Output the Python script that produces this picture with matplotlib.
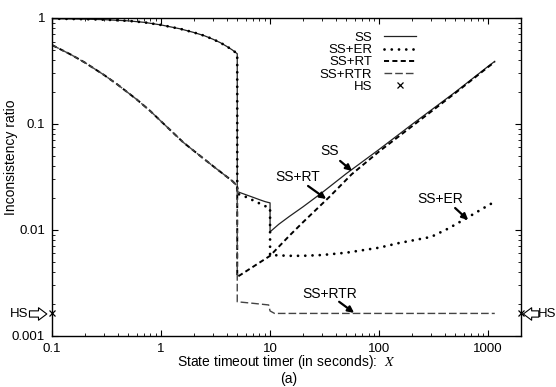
import matplotlib
matplotlib.use('Agg')
import matplotlib.pyplot as plt

plt.rcParams['font.family'] = ['Liberation Sans', 'DejaVu Sans']
plt.rcParams['mathtext.fontset'] = 'stix'

# values (x in seconds, y = inconsistency ratio)
ss_x = [0.1, 0.2, 0.3, 0.5, 0.7, 1, 1.5, 2, 2.5, 3, 3.5, 4, 4.5, 5,
        5, 6, 7, 8, 9, 10, 10, 12, 15, 20, 30, 50, 100, 200, 500, 1000, 1150]
ss_y = [0.985, 0.975, 0.965, 0.94, 0.91, 0.86, 0.79, 0.73, 0.68, 0.63, 0.585, 0.54, 0.50, 0.46,
        0.023, 0.0215, 0.0203, 0.0193, 0.0185, 0.018, 0.0096, 0.0113, 0.0134, 0.0165, 0.0225,
        0.034, 0.0575, 0.099, 0.20, 0.35, 0.39]

er_x = [0.1, 0.2, 0.3, 0.5, 0.7, 1, 1.5, 2, 2.5, 3, 3.5, 4, 4.5, 5,
        5, 6, 7, 8, 9, 10, 10, 15, 20, 30, 50, 100, 150, 300, 430, 640, 900, 1150]
er_y = [0.985, 0.975, 0.965, 0.94, 0.91, 0.86, 0.79, 0.73, 0.68, 0.63, 0.585, 0.54, 0.50, 0.46,
        0.022, 0.0205, 0.019, 0.0178, 0.0168, 0.016, 0.0058, 0.0057, 0.0057, 0.0058, 0.0061,
        0.0068, 0.0075, 0.0086, 0.0103, 0.013, 0.016, 0.0185]

rt_x = [0.1, 0.15, 0.2, 0.3, 0.4, 0.6, 0.8, 1, 1.6, 2.4, 3.2, 4.5, 5,
        5, 7, 10, 15, 20, 35, 56, 100, 200, 500, 1000, 1150]
rt_y = [0.556, 0.45, 0.38, 0.29, 0.235, 0.17, 0.132, 0.106, 0.067, 0.048, 0.038, 0.029, 0.026,
        0.0036, 0.0045, 0.0057, 0.0088, 0.0118, 0.0205, 0.0335, 0.055, 0.095, 0.196, 0.345, 0.385]

rtr_x = [0.1, 0.15, 0.2, 0.3, 0.4, 0.6, 0.8, 1, 1.6, 2.4, 3.2, 4.5, 5,
         5, 7, 9.7, 10, 11, 1150]
rtr_y = [0.556, 0.45, 0.38, 0.29, 0.235, 0.17, 0.132, 0.106, 0.067, 0.048, 0.038, 0.029, 0.026,
         0.0021, 0.00203, 0.00196, 0.00172, 0.00163, 0.00163]

hs_x = [0.1, 2000]
hs_y = [0.00163, 0.00163]

xticks = [0.1, 1, 10, 100, 1000]
xtick_labels = ['0.1', '1', '10', '100', '1000']
yticks = [0.001, 0.01, 0.1, 1]
ytick_labels = ['0.001', '0.01', '0.1', '1']

fig = plt.figure(figsize=(5.56, 3.87), dpi=100)
ax = fig.add_axes([0.0935, 0.132, 0.8435, 0.8215])

ax.plot(ss_x, ss_y, color='#222222', lw=0.9, label='SS')
ax.plot(er_x, er_y, color='black', lw=2.0, linestyle=(0, (0.01, 2.6)),
        dash_capstyle='round', label='SS+ER')
ax.plot(rt_x, rt_y, color='black', lw=1.4, linestyle=(0, (2.6, 1.7)), label='SS+RT')
ax.plot(rtr_x, rtr_y, color='#444444', lw=1.0, linestyle=(0, (5.5, 2.2)), label='SS+RTR')
ax.plot(hs_x, hs_y, linestyle='none', marker='x', ms=4, mew=0.9, color='black',
        clip_on=False, label='HS', zorder=5)

ax.set_xscale('log')
ax.set_yscale('log')
ax.set_xlim(0.1, 2000)
ax.set_ylim(0.001, 1)
ax.set_xticks(xticks)
ax.set_xticklabels(xtick_labels)
ax.set_yticks(yticks)
ax.set_yticklabels(ytick_labels)
ax.tick_params(which='both', direction='in', top=True, right=True, labelsize=9.5, pad=5)
ax.tick_params(which='major', length=4.5, width=0.8)
ax.tick_params(which='minor', length=2.2, width=0.6)
for s in ax.spines.values():
    s.set_linewidth(1.0)

ax.set_xlabel(r'State timeout timer (in seconds):  $X$', fontsize=10, labelpad=-1)
ax.set_ylabel('Inconsistency ratio', fontsize=10)
ax.yaxis.set_label_coords(-0.073, 0.563)
fig.text(0.52, 0.02, '(a)', ha='center', va='center', fontsize=10)

leg = ax.legend(loc='upper right', bbox_to_anchor=(0.776, 0.957), frameon=False,
                markerfirst=False, fontsize=9.5, labelspacing=0.0, handlelength=2.4,
                handletextpad=0.9, borderpad=0, borderaxespad=0)

arrow = dict(arrowstyle='-|>', lw=1.6, color='black', mutation_scale=9, shrinkA=0, shrinkB=0)
ax.text(35.5, 0.0556, 'SS', fontsize=10, ha='center', va='center')
ax.annotate('', xy=(56.5, 0.036), xytext=(43.9, 0.0448), arrowprops=arrow)
ax.text(18.1, 0.0316, 'SS+RT', fontsize=10, ha='center', va='center')
ax.annotate('', xy=(32.7, 0.0196), xytext=(22.3, 0.026), arrowprops=arrow)
ax.text(363, 0.0196, 'SS+ER', fontsize=10, ha='center', va='center')
ax.annotate('', xy=(656, 0.0124), xytext=(498, 0.0161), arrowprops=arrow)
ax.text(35.5, 0.00249, 'SS+RTR', fontsize=10, ha='center', va='center')
ax.annotate('', xy=(59, 0.00165), xytext=(43, 0.0021), arrowprops=arrow)

# hollow "HS" pointers outside the axes
hollow = dict(arrowstyle='simple,head_length=0.6,head_width=0.9,tail_width=0.45',
              fc='white', ec='black', lw=0.8, shrinkA=0, shrinkB=0)
ax.annotate('', xy=(-0.011, 0.069), xytext=(-0.048, 0.069), xycoords='axes fraction',
            textcoords='axes fraction', arrowprops=hollow, annotation_clip=False)
ax.annotate('', xy=(1.005, 0.069), xytext=(1.038, 0.069), xycoords='axes fraction',
            textcoords='axes fraction', arrowprops=hollow, annotation_clip=False)
ax.text(-0.071, 0.069, 'HS', transform=ax.transAxes, fontsize=9.5, ha='center', va='center')
ax.text(1.055, 0.069, 'HS', transform=ax.transAxes, fontsize=9.5, ha='center', va='center')

fig.savefig('out.png', dpi=100)
